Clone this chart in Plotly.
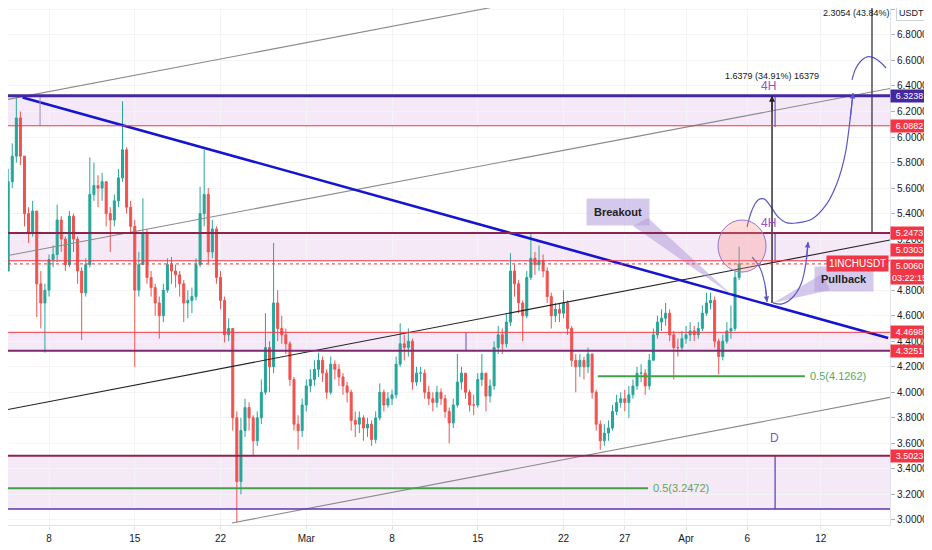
import pandas as pd
import plotly.graph_objects as go

# ---- data (8h candles, 1INCHUSDT) ----
T0 = pd.Timestamp("2021-02-04 00:00")

close = [4.85, 4.95, 5.65, 5.85, 6.15, 5.85, 5.40, 5.25, 5.42, 4.85, 4.70, 4.80,
         5.04, 5.08, 5.35, 5.20, 5.00, 5.38, 5.20, 4.95, 4.78, 5.00, 5.55, 5.62,
         5.60, 5.65, 5.40, 5.35, 5.50, 5.68, 5.90, 5.45, 5.30, 4.80, 5.00, 5.25,
         4.90, 4.82, 4.70, 4.60, 4.80, 5.00, 4.95, 4.92, 4.85, 4.70, 4.72, 4.75,
         5.00, 5.40, 5.55, 5.10, 5.28, 4.90, 4.72, 4.45, 4.50, 3.80, 3.30, 3.70,
         3.88, 3.80, 3.62, 3.80, 4.00, 4.35, 4.20, 4.70, 4.50, 4.45, 4.38, 4.10,
         3.75, 3.70, 3.90, 4.05, 4.10, 4.18, 4.25, 4.15, 4.00, 4.22, 4.18, 4.12,
         4.05, 4.00, 3.78, 3.75, 3.80, 3.72, 3.75, 3.63, 3.80, 4.00, 3.90, 3.95,
         3.98, 4.22, 4.38, 4.35, 4.40, 4.08, 4.15, 4.15, 4.00, 3.95, 3.92, 4.00,
         3.95, 3.85, 3.76, 3.90, 4.08, 4.15, 4.00, 3.90, 3.90, 4.10, 4.15, 3.97,
         4.05, 4.35, 4.45, 4.38, 4.55, 4.95, 4.85, 4.70, 4.60, 4.90, 5.05, 5.00,
         5.03, 4.95, 4.75, 4.60, 4.65, 4.62, 4.70, 4.50, 4.25, 4.20, 4.25, 4.20,
         4.30, 4.00, 3.75, 3.62, 3.68, 3.72, 3.85, 3.92, 3.95, 3.92, 3.98, 4.05,
         4.15, 4.15, 4.05, 4.25, 4.45, 4.55, 4.58, 4.62, 4.45, 4.35, 4.35, 4.42,
         4.45, 4.48, 4.45, 4.50, 4.62, 4.70, 4.72, 4.40, 4.28, 4.40, 4.48, 4.50,
         4.90, 5.006]
high = [5.05, 5.00, 5.75, 5.95, 6.31, 6.20, 5.85, 5.45, 5.50, 5.42, 4.95, 4.85,
        5.08, 5.15, 5.47, 5.38, 5.22, 5.42, 5.40, 5.22, 4.98, 5.05, 5.84, 5.80,
        5.70, 5.72, 5.65, 5.45, 5.55, 5.75, 6.28, 5.92, 5.50, 5.35, 5.10, 5.52,
        5.28, 4.95, 4.85, 4.75, 4.85, 5.05, 5.06, 5.00, 4.95, 4.88, 4.80, 4.82,
        5.05, 5.61, 5.90, 5.60, 5.35, 5.30, 4.95, 4.75, 4.58, 4.50, 3.85, 3.80,
        3.95, 3.92, 3.82, 3.85, 4.10, 4.62, 4.40, 5.17, 4.80, 4.60, 4.50, 4.40,
        4.12, 3.82, 3.95, 4.10, 4.18, 4.25, 4.31, 4.28, 4.18, 4.28, 4.25, 4.22,
        4.15, 4.08, 4.02, 3.85, 3.85, 3.82, 3.80, 3.78, 3.85, 4.07, 4.02, 4.00,
        4.02, 4.28, 4.54, 4.45, 4.50, 4.42, 4.20, 4.20, 4.18, 4.05, 4.00, 4.05,
        4.03, 3.98, 3.88, 3.95, 4.30, 4.20, 4.15, 4.02, 3.98, 4.15, 4.30, 4.15,
        4.10, 4.40, 4.52, 4.50, 4.62, 5.09, 5.00, 4.88, 4.72, 4.95, 5.25, 5.10,
        5.15, 5.08, 4.98, 4.78, 4.70, 4.70, 4.80, 4.72, 4.52, 4.30, 4.30, 4.28,
        4.35, 4.30, 4.02, 3.78, 3.75, 3.78, 3.90, 3.98, 4.00, 4.02, 4.05, 4.10,
        4.20, 4.22, 4.18, 4.30, 4.50, 4.60, 4.65, 4.70, 4.65, 4.48, 4.42, 4.48,
        4.52, 4.55, 4.52, 4.55, 4.68, 4.78, 4.78, 4.75, 4.42, 4.45, 4.55, 4.68,
        4.95, 5.14]
low = [4.60, 4.78, 4.95, 5.60, 5.80, 5.78, 5.30, 5.17, 5.22, 4.59, 4.50, 4.31,
       4.75, 4.98, 5.02, 5.10, 4.95, 4.98, 5.10, 4.85, 4.41, 4.75, 4.98, 5.50,
       5.45, 5.50, 5.30, 5.10, 5.30, 5.45, 5.65, 5.40, 5.25, 4.20, 4.75, 5.00,
       4.85, 4.75, 4.60, 4.42, 4.55, 4.78, 4.85, 4.82, 4.75, 4.55, 4.58, 4.62,
       4.72, 4.98, 5.30, 5.00, 5.05, 4.85, 4.65, 4.39, 4.40, 3.70, 2.98, 3.20,
       3.65, 3.70, 3.50, 3.58, 3.75, 3.98, 4.00, 4.15, 4.40, 4.38, 4.30, 4.05,
       3.70, 3.55, 3.65, 3.85, 4.00, 4.05, 4.12, 4.08, 3.95, 3.98, 4.10, 4.05,
       3.98, 3.92, 3.70, 3.65, 3.68, 3.62, 3.65, 3.58, 3.60, 3.78, 3.85, 3.88,
       3.90, 3.95, 4.20, 4.25, 4.28, 4.02, 4.05, 4.08, 3.95, 3.90, 3.85, 3.88,
       3.90, 3.80, 3.60, 3.72, 3.88, 4.02, 3.95, 3.85, 3.82, 3.88, 4.05, 3.85,
       3.92, 4.02, 4.30, 4.30, 4.35, 4.52, 4.75, 4.62, 4.40, 4.58, 4.88, 4.92,
       4.95, 4.90, 4.70, 4.50, 4.55, 4.55, 4.58, 4.45, 4.20, 4.00, 4.12, 4.10,
       4.15, 3.95, 3.70, 3.55, 3.58, 3.62, 3.70, 3.82, 3.88, 3.85, 3.80, 3.95,
       4.02, 4.08, 3.98, 4.02, 4.25, 4.42, 4.48, 4.52, 4.40, 4.10, 4.28, 4.32,
       4.38, 4.40, 4.40, 4.42, 4.48, 4.60, 4.65, 4.35, 4.14, 4.25, 4.38, 4.42,
       4.48, 4.88]
first_open = 5.00

# levels drawn on the chart
zones = [(6.0882, 6.3238), (5.0303, 5.2473), (4.3251, 4.4698), (3.085, 3.5023)]
levels = [6.3238, 6.0882, 5.2473, 5.0303, 4.4698, 4.3251, 3.5023, 3.085]
level_colors = ["#4527a0", "#f23645", "#8e244d", "#f23645", "#f23645", "#7b2a6e", "#8e244d", "#5e35b1"]
level_widths = [3, 1, 2, 1, 1, 2, 2, 1.5]
last_price = 5.006

# trend lines: (day offset, price) endpoints
blue_line = [(1.85, 6.31), (72.5, 4.425)]
channel_lines = [
    [(0, 6.283), (72.65, 7.61)],
    [(0, 5.060), (72.65, 6.38)],
    [(0, 3.853), (72.65, 5.193)],
    [(18.94, 2.976), (72.65, 3.96)],
]
channel_colors = ["#8a8a8a", "#8a8a8a", "#222222", "#8a8a8a"]

fib_lines = [(48.8, 65.7, 4.1262, "0.5(4.1262)"), (0.0, 52.9, 3.2472, "0.5(3.2472)")]

# hand drawn path projections (day offset, price)
path_up_days = [60.98, 61.39, 61.88, 62.37, 62.94, 63.51, 64.24, 65.06, 66.29, 67.43, 68.33, 68.98, 69.39, 69.63]
path_up_prices = [5.295, 5.429, 5.507, 5.515, 5.452, 5.374, 5.327, 5.327, 5.358, 5.468, 5.640, 5.860, 6.134, 6.345]
path_top_days = [69.55, 69.80, 70.20, 70.78, 71.35, 71.84, 72.33]
path_top_prices = [6.447, 6.526, 6.588, 6.628, 6.620, 6.588, 6.541]
path_down_days = [61.39, 62.04, 62.45, 62.61]
path_down_prices = [5.060, 4.974, 4.841, 4.708]
path_pull_days = [63.10, 63.84, 64.65, 65.39, 65.80, 65.96]
path_pull_prices = [4.700, 4.692, 4.739, 4.849, 5.021, 5.178]

tick_days = ["2021-02-08", "2021-02-15", "2021-02-22", "2021-03-01", "2021-03-08",
             "2021-03-15", "2021-03-22", "2021-03-27", "2021-04-01", "2021-04-06", "2021-04-12"]
tick_text = ["8", "15", "22", "Mar", "8", "15", "22", "27", "Apr", "6", "12"]
price_ticks = [3.0 + 0.2 * i for i in range(21)]

# the page has an 8px body margin, so the figure is a bit smaller than the window
FIG_W, FIG_H = 924, 542
PLOT_W = 882


def d(days):
    return T0 + pd.Timedelta(days=days)


dates = pd.date_range(T0, periods=len(close), freq="8h")
opens = [first_open] + close[:-1]

fig = go.Figure()

fig.add_trace(go.Candlestick(
    x=dates, open=opens, high=high, low=low, close=close,
    increasing=dict(line=dict(color="#26a69a", width=1), fillcolor="#26a69a"),
    decreasing=dict(line=dict(color="#ef5350", width=1), fillcolor="#ef5350"),
    whiskerwidth=0, hoverinfo="skip",
))

# channel lines
for pts, col in zip(channel_lines, channel_colors):
    fig.add_trace(go.Scatter(x=[d(p[0]) for p in pts], y=[p[1] for p in pts], mode="lines",
                             line=dict(color=col, width=1.1), hoverinfo="skip"))

# descending blue trend line
fig.add_trace(go.Scatter(x=[d(p[0]) for p in blue_line], y=[p[1] for p in blue_line], mode="lines",
                         line=dict(color="#1414d2", width=2.6), hoverinfo="skip"))

# fib 0.5 lines
for x0, x1, lv, lab in fib_lines:
    fig.add_trace(go.Scatter(x=[d(x0), d(x1)], y=[lv, lv], mode="lines",
                             line=dict(color="#43a047", width=2), hoverinfo="skip"))
    fig.add_annotation(x=d(x1), y=lv, text=lab, showarrow=False, xanchor="left", xshift=3,
                       font=dict(size=11, color="#5aa85e"))

# breakout / pullback callout tails
tails = [([51.67, 52.90, 59.84], [5.303, 5.366, 4.755]),
         ([67.10, 67.76, 63.10], [4.927, 4.802, 4.700])]
for td, tp in tails:
    fig.add_trace(go.Scatter(x=[d(v) for v in td], y=tp, mode="lines", fill="toself",
                             fillcolor="rgba(179,157,219,0.55)", line=dict(width=0), hoverinfo="skip"))

# projected paths
purple = "#5b57c8"
for xs, ys in [(path_up_days, path_up_prices), (path_top_days, path_top_prices),
               (path_down_days, path_down_prices), (path_pull_days, path_pull_prices)]:
    fig.add_trace(go.Scatter(x=[d(v) for v in xs], y=ys, mode="lines",
                             line=dict(color=purple, width=1.2, shape="spline"), hoverinfo="skip"))
for xs, ys in [(path_up_days, path_up_prices), (path_down_days, path_down_prices),
               (path_pull_days, path_pull_prices)]:
    fig.add_annotation(x=d(xs[-1]), y=ys[-1], ax=d(xs[-2]), ay=ys[-2], axref="x", ayref="y",
                       showarrow=True, arrowhead=2, arrowsize=1, arrowwidth=1.1, arrowcolor=purple, text="")

# vertical measure lines
verticals = [(63.02, 4.70, 6.3238, "#222222", 1.4), (71.18, 5.2473, 7.2, "#444444", 1.4),
             (63.27, 3.085, 3.5023, "#5e35b1", 1.2), (63.27, 6.079, 6.3238, "#5e35b1", 1),
             (63.27, 5.0303, 5.2473, "#5e35b1", 1), (3.27, 6.0882, 6.3238, "#9a8fb0", 1),
             (38.04, 4.3251, 4.4698, "#6a4bc4", 1)]
for dx, y0, y1, col, w in verticals:
    fig.add_trace(go.Scatter(x=[d(dx), d(dx)], y=[y0, y1], mode="lines",
                             line=dict(color=col, width=w), hoverinfo="skip"))
fig.add_annotation(x=d(63.02), y=6.3238, ax=d(63.02), ay=6.2, axref="x", ayref="y", showarrow=True,
                   arrowhead=2, arrowwidth=1.2, arrowcolor="#222222", text="")

shapes = []
for lo, hi in zones:
    shapes.append(dict(type="rect", xref="paper", x0=0, x1=1, yref="y", y0=lo, y1=hi,
                       fillcolor="rgba(206,147,216,0.2)", line=dict(width=0), layer="below"))
for lv, col, w in zip(levels, level_colors, level_widths):
    shapes.append(dict(type="line", xref="paper", x0=0, x1=1, yref="y", y0=lv, y1=lv,
                       line=dict(color=col, width=w)))
shapes.append(dict(type="line", xref="paper", x0=0, x1=1, yref="y", y0=last_price, y1=last_price,
                   line=dict(color="#f23645", width=1, dash="dot")))
shapes.append(dict(type="circle", xref="x", yref="y", x0=d(58.61), x1=d(62.53), y0=4.942, y1=5.35,
                   fillcolor="rgba(255,138,128,0.3)", line=dict(color="#9575cd", width=1)))

# text notes
notes = [(63.0, 6.479, "1.6379 (34.91%) 16379", "#131722", 9),
         (62.7, 6.40, "4H", "#9c4dcc", 12), (62.7, 5.33, "4H", "#9c4dcc", 12),
         (69.95, 6.972, "2.3054 (43.84%)", "#131722", 9), (63.2, 3.64, "D", "#7e57c2", 12)]
for dx, py, txt, col, sz in notes:
    fig.add_annotation(x=d(dx), y=py, text=txt, showarrow=False, font=dict(size=sz, color=col))

fig.add_annotation(x=d(50.45), y=5.413, text="<b>Breakout</b>", showarrow=False,
                   bgcolor="rgba(179,157,219,0.55)", borderpad=7, font=dict(size=11, color="#222"))
fig.add_annotation(x=d(68.9), y=4.888, text="<b>Pullback</b>", showarrow=False,
                   bgcolor="rgba(179,157,219,0.55)", borderpad=6, font=dict(size=11, color="#222"))
fig.add_annotation(xref="paper", x=(857 - 8) / PLOT_W, xanchor="center", y=last_price, text="1INCHUSDT",
                   showarrow=False, bgcolor="#f23645", borderpad=2, font=dict(size=10, color="white"))

# price labels on the axis
axis_labels = [(6.3238, "6.3238", "#4527a0", 0), (6.0882, "6.0882", "#f23645", 0),
               (5.2473, "5.2473", "#f23645", 0), (5.0303, "5.0303", "#f23645", 11),
               (5.006, "5.0060", "#f23645", -2), (5.006, "03:22:15", "#f23645", -14),
               (4.4698, "4.4698", "#f23645", 0), (4.3251, "4.3251", "#f23645", 0),
               (3.5023, "3.5023", "#f23645", 0)]
for py, txt, col, ys in axis_labels:
    fig.add_annotation(xref="paper", x=1, xanchor="left", xshift=0, y=py, yshift=ys, text=txt,
                       showarrow=False, bgcolor=col, borderpad=1, width=35,
                       font=dict(size=9, color="white"))
fig.add_annotation(xref="paper", yref="paper", x=1, y=1, xanchor="left", yanchor="top", xshift=6,
                   yshift=3, text="USDT", showarrow=False, bgcolor="white", bordercolor="#d0d3db",
                   borderpad=2, font=dict(size=9, color="#131722"))

fig.update_layout(
    width=FIG_W, height=FIG_H, margin=dict(l=0, r=FIG_W - PLOT_W, t=0, b=25),
    paper_bgcolor="white", plot_bgcolor="white", showlegend=False, hovermode=False,
    shapes=shapes, font=dict(family="Liberation Sans", size=10, color="#131722"),
)
fig.update_xaxes(type="date", range=[d(8 / 12.25), d(72.65)], rangeslider=dict(visible=False),
                 tickvals=tick_days, ticktext=tick_text, showgrid=True, gridcolor="#f4f4f6",
                 showline=True, linecolor="#e0e3eb", ticks="outside", ticklen=4, tickcolor="#e0e3eb",
                 tickfont=dict(size=10, color="#131722"), fixedrange=True)
fig.update_yaxes(side="right", range=[2.96, 7.011], tickvals=price_ticks, tickformat=".4f",
                 showgrid=True, gridcolor="#f4f4f6", showline=True, linecolor="#e0e3eb",
                 ticks="outside", ticklen=4, tickcolor="#b0b3bb", tickfont=dict(size=10, color="#131722"),
                 zeroline=False, fixedrange=True)

fig.write_html("out.html")
